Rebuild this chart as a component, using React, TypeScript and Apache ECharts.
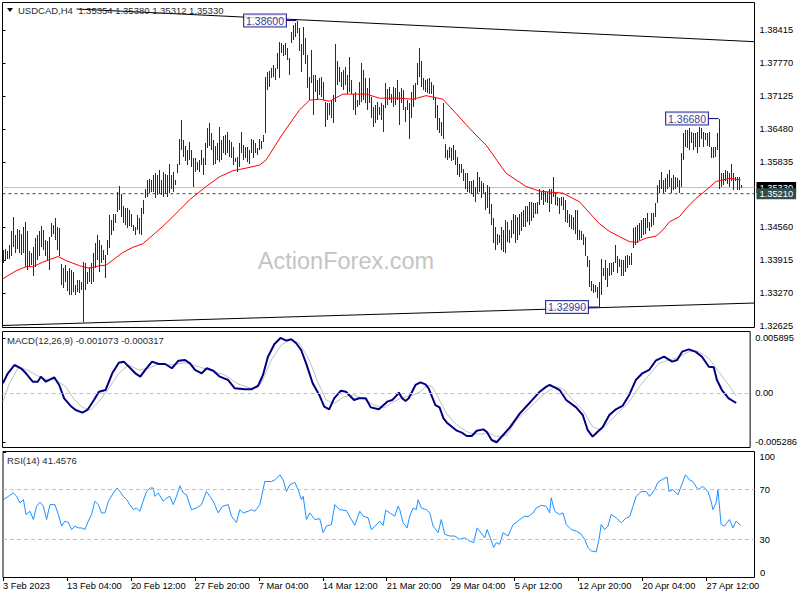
import React, { useEffect, useRef } from "react";
import * as echarts from "echarts";

const FONT = "'Liberation Sans', Arial, sans-serif";

// ---- bar (H4) data: high / low per bar, index 0 = first visible bar ----
const barHigh = [
  1.3411, 1.3412, 1.3408, 1.3421, 1.3447, 1.3476, 1.3440, 1.3452, 1.3450, 1.3443,
  1.3456, 1.3466, 1.3447, 1.3408, 1.3404, 1.3417, 1.3434, 1.3440, 1.3447, 1.3458,
  1.3450, 1.3430, 1.3428, 1.3437, 1.3463, 1.3460, 1.3473, 1.3456, 1.3453, 1.3384,
  1.3375, 1.3381, 1.3370, 1.3375, 1.3372, 1.3368, 1.3342, 1.3352, 1.3352, 1.3349,
  1.3388, 1.3385, 1.3368, 1.3378, 1.3385, 1.3404, 1.3424, 1.3440, 1.3430, 1.3420,
  1.3411, 1.3401, 1.3430, 1.3479, 1.3470, 1.3481, 1.3482, 1.3525, 1.3536, 1.3520,
  1.3496, 1.3492, 1.3492, 1.3490, 1.3482, 1.3460, 1.3456, 1.3479, 1.3473, 1.3492,
  1.3509, 1.3531, 1.3548, 1.3550, 1.3548, 1.3558, 1.3561, 1.3558, 1.3567, 1.3548,
  1.3564, 1.3560, 1.3558, 1.3580, 1.3558, 1.3564, 1.3548, 1.3580, 1.3629, 1.3665,
  1.3626, 1.3615, 1.3606, 1.3623, 1.3606, 1.3590, 1.3590, 1.3584, 1.3587, 1.3606,
  1.3590, 1.3620, 1.3649, 1.3659, 1.3639, 1.3626, 1.3615, 1.3620, 1.3652, 1.3626,
  1.3633, 1.3636, 1.3642, 1.3626, 1.3622, 1.3613, 1.3590, 1.3593, 1.3620, 1.3642,
  1.3616, 1.3613, 1.3613, 1.3606, 1.3629, 1.3626, 1.3620, 1.3610, 1.3629, 1.3625,
  1.3636, 1.3750, 1.3759, 1.3762, 1.3767, 1.3773, 1.3767, 1.3796, 1.3818, 1.3816,
  1.3812, 1.3816, 1.3806, 1.3787, 1.3838, 1.3851, 1.3855, 1.3860, 1.3845, 1.3815,
  1.3848, 1.3825, 1.3793, 1.3750, 1.3802, 1.3753, 1.3753, 1.3744, 1.3748, 1.3750,
  1.3740, 1.3701, 1.3698, 1.3698, 1.3705, 1.3714, 1.3815, 1.3780, 1.3770, 1.3760,
  1.3763, 1.3770, 1.3753, 1.3789, 1.3744, 1.3717, 1.3721, 1.3704, 1.3740, 1.3776,
  1.3763, 1.3747, 1.3727, 1.3747, 1.3710, 1.3691, 1.3695, 1.3701, 1.3691, 1.3698,
  1.3695, 1.3737, 1.3725, 1.3730, 1.3717, 1.3730, 1.3727, 1.3744, 1.3721, 1.3727,
  1.3724, 1.3691, 1.3704, 1.3698, 1.3720, 1.3734, 1.3737, 1.3776, 1.3806, 1.3780,
  1.3747, 1.3744, 1.3745, 1.3747, 1.3740, 1.3734, 1.3711, 1.3695, 1.3669, 1.3662,
  1.3698, 1.3619, 1.3606, 1.3613, 1.3610, 1.3616, 1.3606, 1.3593, 1.3580, 1.3580,
  1.3570, 1.3561, 1.3561, 1.3545, 1.3545, 1.3548, 1.3535, 1.3564, 1.3554, 1.3545,
  1.3541, 1.3525, 1.3538, 1.3535, 1.3500, 1.3473, 1.3456, 1.3443, 1.3440, 1.3456,
  1.3450, 1.3469, 1.3466, 1.3450, 1.3470, 1.3482, 1.3479, 1.3476, 1.3482, 1.3486,
  1.3489, 1.3496, 1.3496, 1.3505, 1.3505, 1.3502, 1.3502, 1.3505, 1.3531, 1.3525,
  1.3528, 1.3525, 1.3525, 1.3531, 1.3530, 1.3554, 1.3522, 1.3515, 1.3512, 1.3515,
  1.3515, 1.3509, 1.3489, 1.3482, 1.3480, 1.3476, 1.3489, 1.3489, 1.3450, 1.3447,
  1.3443, 1.3437, 1.3398, 1.3391, 1.3350, 1.3345, 1.3342, 1.3339, 1.3349, 1.3394,
  1.3375, 1.3391, 1.3375, 1.3385, 1.3385, 1.3388, 1.3421, 1.3398, 1.3394, 1.3391,
  1.3391, 1.3398, 1.3401, 1.3398, 1.3404, 1.3453, 1.3456, 1.3460, 1.3463, 1.3469,
  1.3473, 1.3473, 1.3483, 1.3466, 1.3483, 1.3483, 1.3502, 1.3538, 1.3548, 1.3564,
  1.3548, 1.3551, 1.3560, 1.3567, 1.3551, 1.3557, 1.3554, 1.3551, 1.3548, 1.3600,
  1.3639, 1.3646, 1.3645, 1.3649, 1.3642, 1.3639, 1.3639, 1.3642, 1.3652, 1.3649,
  1.3642, 1.3639, 1.3640, 1.3642, 1.3613, 1.3613, 1.3613, 1.3640, 1.3668, 1.3561,
  1.3561, 1.3567, 1.3565, 1.3561, 1.3580, 1.3561, 1.3554, 1.3554, 1.3554, 1.3538,
];

const barLow = [
  1.3385, 1.3390, 1.3394, 1.3394, 1.3398, 1.3417, 1.3404, 1.3412, 1.3404, 1.3401,
  1.3404, 1.3378, 1.3372, 1.3378, 1.3381, 1.3359, 1.3378, 1.3392, 1.3398, 1.3417,
  1.3411, 1.3398, 1.3390, 1.3372, 1.3437, 1.3443, 1.3430, 1.3411, 1.3398, 1.3342,
  1.3336, 1.3349, 1.3330, 1.3322, 1.3322, 1.3329, 1.3322, 1.3329, 1.3326, 1.3332,
  1.3270, 1.3332, 1.3345, 1.3348, 1.3345, 1.3349, 1.3375, 1.3391, 1.3368, 1.3385,
  1.3391, 1.3355, 1.3400, 1.3414, 1.3440, 1.3447, 1.3463, 1.3486, 1.3489, 1.3475,
  1.3463, 1.3460, 1.3453, 1.3458, 1.3456, 1.3447, 1.3440, 1.3450, 1.3443, 1.3440,
  1.3482, 1.3512, 1.3515, 1.3522, 1.3525, 1.3525, 1.3512, 1.3518, 1.3522, 1.3518,
  1.3515, 1.3520, 1.3515, 1.3522, 1.3531, 1.3525, 1.3538, 1.3561, 1.3577, 1.3606,
  1.3593, 1.3585, 1.3577, 1.3587, 1.3574, 1.3535, 1.3564, 1.3567, 1.3564, 1.3577,
  1.3558, 1.3577, 1.3610, 1.3615, 1.3606, 1.3577, 1.3580, 1.3587, 1.3584, 1.3587,
  1.3600, 1.3597, 1.3600, 1.3593, 1.3590, 1.3577, 1.3584, 1.3564, 1.3574, 1.3600,
  1.3587, 1.3590, 1.3584, 1.3580, 1.3600, 1.3590, 1.3600, 1.3597, 1.3606, 1.3608,
  1.3623, 1.3640, 1.3724, 1.3730, 1.3748, 1.3750, 1.3744, 1.3765, 1.3748, 1.3796,
  1.3790, 1.3792, 1.3783, 1.3753, 1.3816, 1.3822, 1.3828, 1.3835, 1.3800, 1.3760,
  1.3793, 1.3775, 1.3727, 1.3704, 1.3737, 1.3675, 1.3721, 1.3704, 1.3715, 1.3711,
  1.3704, 1.3652, 1.3665, 1.3675, 1.3670, 1.3659, 1.3701, 1.3734, 1.3740, 1.3730,
  1.3724, 1.3734, 1.3717, 1.3721, 1.3717, 1.3685, 1.3675, 1.3691, 1.3695, 1.3701,
  1.3704, 1.3698, 1.3685, 1.3698, 1.3670, 1.3652, 1.3659, 1.3665, 1.3675, 1.3665,
  1.3642, 1.3688, 1.3695, 1.3704, 1.3698, 1.3691, 1.3695, 1.3704, 1.3655, 1.3698,
  1.3685, 1.3662, 1.3685, 1.3629, 1.3670, 1.3691, 1.3704, 1.3734, 1.3750, 1.3730,
  1.3724, 1.3721, 1.3718, 1.3717, 1.3717, 1.3704, 1.3669, 1.3646, 1.3639, 1.3633,
  1.3629, 1.3590, 1.3587, 1.3590, 1.3585, 1.3587, 1.3577, 1.3557, 1.3554, 1.3561,
  1.3545, 1.3531, 1.3525, 1.3522, 1.3520, 1.3515, 1.3505, 1.3522, 1.3525, 1.3512,
  1.3522, 1.3489, 1.3492, 1.3482, 1.3460, 1.3424, 1.3411, 1.3420, 1.3424, 1.3411,
  1.3407, 1.3404, 1.3427, 1.3424, 1.3435, 1.3443, 1.3424, 1.3430, 1.3440, 1.3447,
  1.3456, 1.3456, 1.3466, 1.3460, 1.3468, 1.3473, 1.3482, 1.3482, 1.3499, 1.3509,
  1.3499, 1.3505, 1.3502, 1.3486, 1.3500, 1.3515, 1.3499, 1.3496, 1.3482, 1.3496,
  1.3489, 1.3466, 1.3463, 1.3456, 1.3452, 1.3450, 1.3443, 1.3430, 1.3430, 1.3430,
  1.3420, 1.3398, 1.3378, 1.3339, 1.3330, 1.3326, 1.3329, 1.3316, 1.3299, 1.3323,
  1.3359, 1.3352, 1.3339, 1.3359, 1.3362, 1.3368, 1.3385, 1.3365, 1.3378, 1.3359,
  1.3359, 1.3368, 1.3375, 1.3381, 1.3381, 1.3414, 1.3421, 1.3425, 1.3430, 1.3434,
  1.3440, 1.3443, 1.3453, 1.3447, 1.3456, 1.3460, 1.3476, 1.3502, 1.3522, 1.3531,
  1.3522, 1.3525, 1.3530, 1.3535, 1.3522, 1.3528, 1.3531, 1.3535, 1.3522, 1.3535,
  1.3587, 1.3613, 1.3610, 1.3606, 1.3620, 1.3606, 1.3613, 1.3600, 1.3613, 1.3629,
  1.3613, 1.3626, 1.3615, 1.3613, 1.3590, 1.3590, 1.3593, 1.3606, 1.3531, 1.3535,
  1.3538, 1.3545, 1.3540, 1.3535, 1.3545, 1.3528, 1.3545, 1.3528, 1.3528, 1.35312,
];

// moving average (red) read at sampled bars: [bar, price]
const maPoints = [
  [0, 1.3354], [6.8, 1.337], [11.8, 1.3378], [15.2, 1.3378], [20.2, 1.3387], [27.7, 1.3398],
  [31.8, 1.339], [38.5, 1.338], [43.5, 1.3375], [48.5, 1.338], [51.8, 1.3381], [60.2, 1.3406],
  [65.2, 1.3416], [70.2, 1.3423], [80.2, 1.3457], [88.5, 1.3489], [93.5, 1.3509], [101.8, 1.3535],
  [108.5, 1.3554], [115.2, 1.3566], [121.8, 1.3571], [128.5, 1.3577], [131.8, 1.3587], [140.2, 1.3639],
  [148.5, 1.3685], [153.5, 1.3704], [158.5, 1.3706], [163.5, 1.3702], [170.2, 1.3716], [181.8, 1.3716],
  [188.5, 1.3708], [198.5, 1.3708], [205.2, 1.3706], [211.8, 1.3713], [220.2, 1.3706], [226.8, 1.3678],
  [235.2, 1.3642], [241.8, 1.3616], [251.8, 1.3561], [261.8, 1.3535], [268.5, 1.3526], [280.2, 1.3522],
  [288.5, 1.3505], [295.2, 1.3476], [298.5, 1.3462], [303.5, 1.3447], [308.5, 1.3437], [313.5, 1.3427],
  [316.8, 1.3426], [321.8, 1.3434], [326.8, 1.3438], [330.2, 1.345], [333.5, 1.3466], [338.5, 1.3476],
  [341.8, 1.3492], [346.8, 1.3512], [351.8, 1.3528], [356.8, 1.3545], [363.5, 1.3551], [369, 1.3548],
];

// trend lines: [bar, price] end points
const upperTrend = [[37, 1.38826], [376, 1.38186]];
const lowerTrend = [[0, 1.32629], [376, 1.33069]];

// annotated extremes
const markPrice = [1.386, 1.3668, 1.3299];
const markBar = [147, 358, 298];

const lastPrice = 1.3533;
const levelPrice = 1.3521;

const priceTicks = [1.38415, 1.3777, 1.37125, 1.3648, 1.35835, 1.3456, 1.33915, 1.3327, 1.32625];

// MACD main and signal: [bar, value]
const macdMain = [
  [0.2, 0.00104], [2.7, 0.00211], [6, 0.003], [9.3, 0.00265], [11.8, 0.00211], [15.2, 0.00121],
  [17.7, 0.00121], [19.3, 0.00175], [21.8, 0.00121], [26, 0.00168], [28.5, 0.00086], [31, -0.00057],
  [34.3, -0.00139], [36.8, -0.00182], [40.2, -0.00211], [42.7, -0.00182], [46, -0.00075], [48.5, 0.00014],
  [51.8, 0.00032], [55.2, 0.00211], [58.5, 0.00325], [61, 0.00336], [64.3, 0.00265], [66.8, 0.00211],
  [69.3, 0.00175], [71.8, 0.00247], [75.2, 0.00336], [78.5, 0.00311], [81.8, 0.00311], [85.2, 0.00265],
  [88.5, 0.00346], [91.8, 0.00354], [94.3, 0.00318], [96.8, 0.00247], [100.2, 0.00211], [102.7, 0.00265],
  [106, 0.00239], [109.3, 0.00175], [113.5, 0.00139], [116.8, 0.0005], [121.8, 0.0004], [125.2, 0.0004],
  [128.5, 0.00075], [131, 0.00193], [133.5, 0.00389], [136.8, 0.00525], [139.8, 0.0059], [142.7, 0.00561],
  [145.2, 0.00576], [147.7, 0.00533], [150.2, 0.00461], [152.7, 0.00318], [156, 0.00104], [159.3, -0.00021],
  [161.8, -0.00147], [164.3, -0.00175], [166.8, -0.00057], [170.2, 0.00025], [172.7, 0.00014], [176.8, -0.00075],
  [179.3, -0.00057], [182.7, -0.00057], [185.2, -0.00154], [189.3, -0.00175], [193.5, -0.00093], [196, -0.00075],
  [197.7, -0.00039], [199.3, 0.00004], [201, -0.00057], [202.7, -0.00086], [204.3, -0.00057], [206, 0.00014],
  [207.7, 0.00086], [210.2, 0.00114], [212.7, 0.00093], [214.3, 0.0005], [216, -0.00039], [217.7, -0.00129],
  [219.8, -0.00154], [221.8, -0.00272], [223.5, -0.00318], [226, -0.00361], [228.5, -0.00404], [231, -0.00425],
  [233.5, -0.00461], [236, -0.00461], [238.5, -0.00404], [241.8, -0.0039], [243.5, -0.00415], [246, -0.00504],
  [248.5, -0.00528], [251.8, -0.0045], [255.2, -0.00368], [260.2, -0.00218], [265.2, -0.00104], [270.2, 0.00014],
  [273.5, 0.00068], [275.2, 0.00086], [277.7, 0.00061], [280.2, 0.00032], [283.5, -0.00075], [288.5, -0.00154],
  [291.8, -0.00236], [294.3, -0.00397], [296.8, -0.00468], [299.3, -0.00415], [301.8, -0.00368], [305.2, -0.00236],
  [308.5, -0.00175], [311.8, -0.00139], [315.2, -0.00021], [318.5, 0.00139], [321.8, 0.00211], [325.2, 0.00247],
  [328.5, 0.00346], [332.7, 0.00389], [336.8, 0.00336], [339.3, 0.00354], [341.8, 0.00443], [345.2, 0.00468],
  [348.5, 0.00443], [351.8, 0.00389], [355.2, 0.00282], [357.7, 0.00275], [359.3, 0.00139], [361.8, 0.00032],
  [365.2, -0.00057], [369, -0.001073],
];

const macdSignal = [
  [0.2, -0.00093], [3.5, 0.00104], [7.7, 0.00265], [11.8, 0.00254], [16.8, 0.00193], [21.8, 0.00147],
  [26.8, 0.00139], [31.8, 0.00068], [36, -0.00068], [40.2, -0.00154], [44.3, -0.00182], [48.5, -0.00093],
  [53.5, 0.0005], [58.5, 0.00211], [63.5, 0.003], [68.5, 0.00247], [73.5, 0.00265], [78.5, 0.00311],
  [85.2, 0.003], [91.8, 0.00325], [98.5, 0.00282], [105.2, 0.00239], [111.8, 0.00193], [118.5, 0.00096],
  [125.2, 0.0005], [130.2, 0.00104], [135.2, 0.00354], [140.2, 0.00515], [145.2, 0.00576], [149.3, 0.00533],
  [154.3, 0.00354], [158.5, 0.00121], [162.7, -0.00075], [166.8, -0.00111], [171.8, -0.0004], [176.8, -0.00021],
  [181.8, -0.00068], [186.8, -0.00129], [191.8, -0.0016], [196.8, -0.00093], [200.2, -0.00057], [203.5, -0.00039],
  [206.8, -0.00021], [210.2, 0.00014], [213.5, 0.00086], [216, 0.00068], [218.5, -0.00021], [221, -0.00129],
  [223.5, -0.00225], [226.8, -0.00307], [230.2, -0.00368], [233.5, -0.00415], [236.8, -0.0044], [241, -0.0044],
  [244.3, -0.00425], [248.5, -0.00468], [253.5, -0.00455], [258.5, -0.00289], [265.2, -0.00154], [271.8, -0.00021],
  [277.7, 0.00068], [281.8, 0.0005], [286.8, -0.00075], [291.8, -0.00182], [296.8, -0.00361], [301, -0.00397],
  [305.2, -0.00311], [310.2, -0.002], [315.2, -0.00093], [320.2, 0.00068], [325.2, 0.00193], [330.2, 0.00318],
  [335.2, 0.00354], [340.2, 0.00383], [345.2, 0.00443], [350.2, 0.00443], [355.2, 0.00372], [360.2, 0.00228],
  [365.2, 0.00086], [369, -0.000317],
];
const macdTicks = [-0.005286, 0, 0.005895];

// RSI(14): [bar, value]
const rsiPoints = [
  [0.2, 61.9], [2.7, 64.5], [5.2, 67.2], [6.8, 64.7], [8.5, 59.2], [10.2, 62], [11.5, 50], [13.5, 52.6],
  [15.2, 46], [16.8, 56.6], [18.5, 59.8], [20.2, 56.6], [21.8, 46], [23.5, 57.9], [26, 57.9], [27.7, 50],
  [29.3, 40.7], [31, 44.7], [32.7, 43.6], [34.3, 38], [36, 40.7], [37.7, 39.3], [39.3, 39.3], [41, 38],
  [42.7, 44.7], [44.3, 50], [46, 60.6], [47.7, 57.9], [49.3, 51.3], [51, 51.3], [52.7, 60.6], [55.2, 67.2],
  [57.2, 71.2], [58.5, 68.4], [60.2, 64.5], [61.8, 62], [63.5, 57.9], [65.2, 53.9], [66.8, 55.2], [68.5, 52.6],
  [69.8, 59.2], [71.8, 68.4], [73.8, 71.2], [75.2, 71.2], [76, 64.5], [77.7, 67.2], [80.2, 60.6], [81.8, 63.2],
  [83.5, 64.5], [85.2, 57.9], [86.8, 64.5], [88.5, 73], [90.2, 67.2], [91.8, 65.8], [94.3, 53.9], [96.8, 55.2],
  [99.3, 57.9], [101.8, 68.4], [103.5, 64.5], [105.2, 60.6], [107.7, 51.3], [109.8, 56.6], [112.7, 57.9], [114.3, 48.7],
  [116.8, 43.6], [118.5, 53.9], [120.2, 51.3], [122.7, 52.6], [124.3, 53.9], [126, 52.6], [128.5, 57.9], [131, 76.4],
  [134.3, 76.4], [136, 77.7], [138.5, 81.8], [140.2, 77.7], [141.8, 68.4], [143.5, 73.8], [146, 75.8], [147.7, 69.8],
  [149.3, 62], [150.2, 64.5], [151.8, 46], [153.5, 51.3], [156, 46], [158.5, 46.6], [160.2, 35.5], [161.8, 40.7],
  [164.3, 42], [166, 57.9], [168.5, 53.9], [171.8, 53.1], [174.3, 46], [176, 41.3], [178.5, 52.6], [180.2, 48.7],
  [182.7, 47.3], [184.3, 37.8], [186, 40.4], [188.5, 44.7], [190.2, 41.3], [191.5, 53.4], [193.5, 51.3], [196, 48.7],
  [197.7, 56.6], [198.5, 53.9], [200.2, 43.4], [202.2, 39.3], [203.5, 48.7], [205.2, 55.2], [206.8, 53.9], [207.7, 61.9],
  [209.3, 55.2], [211.8, 53.9], [213.5, 51.3], [215.2, 40.7], [217.7, 35.5], [219.3, 46], [221, 34.2], [223.5, 32.8],
  [226, 32.8], [228.5, 30.1], [231, 31.4], [233.5, 28.8], [235.5, 27.5], [237.2, 39.3], [238.5, 36.7], [241, 31.4],
  [242.2, 38], [243.8, 31.4], [245.5, 23.6], [246.8, 27.5], [248.5, 26.2], [250.2, 35.5], [252.7, 32.8], [255.2, 42],
  [256.8, 43.4], [258.5, 46], [261, 48.7], [262.7, 48.2], [265.2, 51.3], [266.8, 55.2], [269.3, 57.3], [271.8, 56.6],
  [273.5, 51.3], [274.3, 63.3], [276, 52.6], [278.5, 50], [280.2, 51.3], [281.8, 42], [284.3, 38], [286.8, 36.7],
  [289.3, 34.2], [291, 30.1], [292.7, 23.6], [294.3, 20.9], [296.8, 20.1], [298.2, 30.1], [299.3, 42], [301, 38],
  [302.7, 40.7], [304.3, 50], [306.8, 47.3], [309.3, 43.4], [311.8, 47.3], [313.5, 48.2], [315.2, 56.6], [316.8, 64.5],
  [319.3, 68.4], [321.8, 68.4], [323.5, 64.5], [326, 69.8], [327.7, 75.8], [330.2, 78.4], [332.3, 80], [333.2, 68.4],
  [335.2, 69.8], [337.7, 65.8], [340.2, 76.4], [341.5, 81.8], [343.5, 77.7], [345.2, 76.4], [347.7, 69.8], [350.2, 72.5],
  [352.7, 68.4], [354.3, 60.6], [355.2, 53.9], [356.8, 59.2], [357.7, 69.8], [359.3, 42], [361, 40.7], [363.5, 46],
  [365.2, 39.3], [366.8, 44.7], [369, 41.4576],
];
const rsiTicks = [0, 30, 70, 100];
const rsiLabelTicks = [30, 70, 100];
const rsiFloorLabel = "0";
const rsiLevels = [70, 30];

// time axis labels (one every 32 bars)
const timeTickBars = [0, 32, 64, 96, 128, 160, 192, 224, 256, 288, 320, 352];
const timeLabels = [
  "3 Feb 2023", "13 Feb 04:00", "20 Feb 12:00", "27 Feb 20:00", "7 Mar 04:00", "14 Mar 12:00",
  "21 Mar 20:00", "29 Mar 04:00", "5 Apr 12:00", "12 Apr 20:00", "20 Apr 04:00", "27 Apr 12:00",
];

const titleText = "USDCAD,H4  1.35354 1.35380 1.35312 1.35330";
const macdTitle = "MACD(12,26,9) -0.001073 -0.000317";
const rsiTitle = "RSI(14) 41.4576";

// ---- styles / layout ----
const BAR_COLOR = "#0e3352";
const NAVY = "#000080";
const X_MAX = 376;
const PRICE_MIN = 1.325897;
const PRICE_MAX = 1.389535;
const MACD_MIN = -0.0058414;
const MACD_MAX = 0.0065916;
const RSI_MIN = -0.4;
const RSI_MAX = 100.4;
const AX_FS = 9.3;

function priceLine(price: number, color: string, dash: any, boxColor: string, z: number) {
  return {
    type: "line", xAxisIndex: 0, yAxisIndex: 0, symbol: "none", silent: true, z,
    data: [[0, price], [X_MAX, price]],
    lineStyle: { color, type: dash, width: 1 },
    endLabel: {
      show: true, distance: 2, formatter: () => price.toFixed(5),
      backgroundColor: boxColor, color: "#fff", padding: [1, 3, 0, 3],
      fontSize: AX_FS, fontFamily: FONT, lineHeight: 10,
    },
  };
}

function buildOption(): any {
  const grids = [
    { left: 2.5, top: 2.5, width: 752, height: 325 },
    { left: 2.5, top: 331.5, width: 752, height: 116 },
    { left: 2.5, top: 451.5, width: 752, height: 126 },
  ].map((g) => ({ ...g, show: true, borderColor: "#000", borderWidth: 1, backgroundColor: "transparent", containLabel: false }));

  const hiddenX = (gi: number) => ({
    gridIndex: gi, type: "value", min: 0, max: X_MAX, show: false,
  });

  const yCommon = {
    type: "value",
    position: "right",
    axisLine: { show: false },
    splitLine: { show: false },
  };
  const labelCommon = { color: "#000", fontSize: AX_FS, fontFamily: FONT, margin: 5, hideOverlap: false };

  const barData = barHigh.map((h, i) => [i, barLow[i], h]);

  const series: any[] = [
    {
      type: "line", xAxisIndex: 0, yAxisIndex: 0, data: upperTrend, symbol: "none", silent: true,
      lineStyle: { color: "#000", width: 1 }, z: 2,
    },
    {
      type: "line", xAxisIndex: 0, yAxisIndex: 0, data: lowerTrend, symbol: "none", silent: true,
      lineStyle: { color: "#000", width: 1 }, z: 2,
    },
    priceLine(lastPrice, "#c0c0c0", "solid", "#000", 1),
    priceLine(levelPrice, "#2f4f4f", [3, 3], "#2f4f4f", 3),
    {
      type: "custom", xAxisIndex: 0, yAxisIndex: 0, data: barData, silent: true, z: 4,
      encode: { x: 0, y: [1, 2] },
      renderItem: (_p: any, api: any) => {
        const i = api.value(0);
        const lo = api.coord([i, api.value(1)]);
        const hi = api.coord([i, api.value(2)]);
        const x = Math.round(lo[0]) + 0.5;
        let y1 = Math.round(lo[1]);
        let y2 = Math.round(hi[1]);
        if (y1 - y2 < 1) y1 = y2 + 1;
        return {
          type: "line",
          shape: { x1: x, y1, x2: x, y2 },
          style: { stroke: BAR_COLOR, lineWidth: 1 },
        };
      },
    },
    {
      type: "line", xAxisIndex: 0, yAxisIndex: 0, data: maPoints, symbol: "none", silent: true,
      lineStyle: { color: "#ff0000", width: 1 }, z: 5,
    },
    ...markPrice.map((p, k) => ({
      type: "line", xAxisIndex: 0, yAxisIndex: 0, symbol: "none", silent: true, z: 6,
      data: [[markBar[k] - 5, p], [markBar[k], p]],
      lineStyle: { color: NAVY, width: 1 },
    })),
    {
      type: "scatter", xAxisIndex: 0, yAxisIndex: 0, silent: true, z: 7,
      symbolSize: 1, itemStyle: { color: "rgba(0,0,0,0)" },
      data: markPrice.map((p, k) => ({ value: [markBar[k] - 5, p], label: { formatter: p.toFixed(5) } })),
      label: {
        show: true, position: "left", distance: 0,
        backgroundColor: "#fff", borderColor: NAVY, borderWidth: 1, padding: [1, 2, 1, 2],
        color: NAVY, fontSize: 10.5, lineHeight: 10, fontFamily: FONT,
      },
    },
    {
      type: "line", xAxisIndex: 1, yAxisIndex: 1, data: macdSignal, symbol: "none", silent: true,
      lineStyle: { color: "#c0c0c0", width: 1 }, z: 3,
      markLine: {
        symbol: "none", silent: true, animation: false, label: { show: false },
        data: [{ yAxis: 0 }],
        lineStyle: { color: "#c0c0c0", type: [4, 3], width: 1 },
      },
    },
    {
      type: "line", xAxisIndex: 1, yAxisIndex: 1, data: macdMain, symbol: "none", silent: true,
      lineStyle: { color: NAVY, width: 2 }, z: 4,
    },
    {
      type: "line", xAxisIndex: 2, yAxisIndex: 2, data: rsiPoints, symbol: "none", silent: true,
      lineStyle: { color: "#1e90ff", width: 1 }, z: 4,
      markLine: {
        symbol: "none", silent: true, animation: false, label: { show: false },
        data: rsiLevels.map((v) => ({ yAxis: v })),
        lineStyle: { color: "#c0c0c0", type: [4, 3], width: 1 },
      },
    },
  ];

  return {
    animation: false,
    backgroundColor: "#fff",
    textStyle: { fontFamily: FONT },
    grid: grids,
    xAxis: [
      hiddenX(0),
      hiddenX(1),
      {
        gridIndex: 2, type: "value", min: 0, max: X_MAX,
        axisLine: { show: false }, splitLine: { show: false },
        axisTick: { show: true, length: 4, lineStyle: { color: "#000" }, customValues: timeTickBars },
        axisLabel: {
          ...labelCommon, margin: 4, align: "left", customValues: timeTickBars,
          formatter: (v: number) => timeLabels[timeTickBars.indexOf(v)] ?? "",
        },
      },
    ],
    yAxis: [
      {
        ...yCommon, gridIndex: 0, min: PRICE_MIN, max: PRICE_MAX,
        axisTick: { show: true, length: 3, lineStyle: { color: "#000" }, customValues: priceTicks },
        axisLabel: { ...labelCommon, customValues: priceTicks, formatter: (v: number) => v.toFixed(5) },
      },
      {
        ...yCommon, gridIndex: 1, min: MACD_MIN, max: MACD_MAX,
        axisTick: { show: true, length: 3, lineStyle: { color: "#000" }, customValues: macdTicks },
        axisLabel: {
          ...labelCommon, customValues: macdTicks,
          formatter: (v: number) => (v === 0 ? "0.00" : v.toFixed(6)),
        },
      },
      {
        ...yCommon, gridIndex: 2, min: RSI_MIN, max: RSI_MAX,
        axisTick: { show: true, length: 3, lineStyle: { color: "#000" }, customValues: rsiTicks },
        axisLabel: {
          ...labelCommon, customValues: rsiLabelTicks, showMaxLabel: true,
          verticalAlignMaxLabel: "top",
          formatter: (v: number) => String(v),
        },
      },
    ],
    graphic: [
      {
        type: "text", z: 0, silent: true,
        x: 346, y: 261,
        style: {
          text: "ActionForex.com", fill: "#c4c4c4", font: `23.5px ${FONT}`,
          align: "center", verticalAlign: "middle",
        },
      },
      {
        type: "polygon", silent: true, z: 10,
        shape: { points: [[7, 8], [13, 8], [10, 12]] },
        style: { fill: "#000" },
      },
      {
        type: "text", silent: true, z: 10, x: 18, y: 10,
        style: { text: titleText, fill: "#1e2a36", font: `9.5px ${FONT}`, verticalAlign: "middle" },
      },
      {
        type: "text", silent: true, z: 10, x: 7, y: 340.5,
        style: { text: macdTitle, fill: "#1e2a36", font: `9.5px ${FONT}`, verticalAlign: "middle" },
      },
      {
        type: "text", silent: true, z: 10, x: 7, y: 460,
        style: { text: rsiTitle, fill: "#1e2a36", font: `9.5px ${FONT}`, verticalAlign: "middle" },
      },
      {
        type: "text", silent: true, z: 20, zlevel: 0, x: 760, y: 567,
        style: { text: rsiFloorLabel, fill: "#000000", fontSize: 9.5, fontFamily: "Liberation Sans", verticalAlign: "top", align: "left" },
      },
    ],
    series,
  };
}

export default function App() {
  const ref = useRef<HTMLDivElement>(null);
  useEffect(() => {
    if (!ref.current) return;
    const chart = echarts.init(ref.current, null, { renderer: "svg" });
    chart.setOption(buildOption());
    return () => chart.dispose();
  }, []);
  return (
    <div
      ref={ref}
      style={{ position: "absolute", left: 0, top: 0, width: 800, height: 600, background: "#fff" }}
    />
  );
}
